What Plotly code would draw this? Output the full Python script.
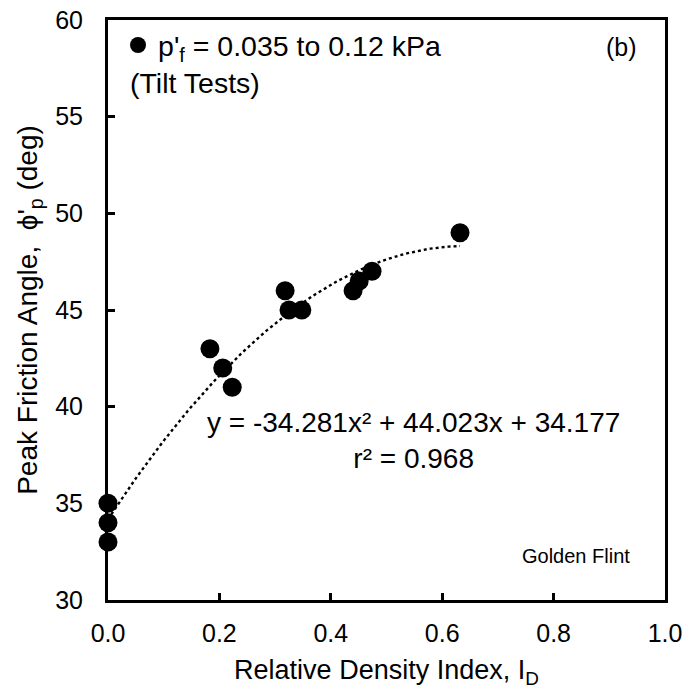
import numpy as np
import plotly.graph_objects as go

# Tilt-test results: relative density index vs peak friction angle
relative_density = [0.0, 0.0, 0.0, 0.183, 0.206, 0.223, 0.318, 0.325, 0.348,
                    0.440, 0.451, 0.474, 0.632]
peak_friction = [35, 34, 33, 43, 42, 41, 46, 45, 45, 46, 46.5, 47, 49]

# Quadratic trendline coefficients (a x^2 + b x + c)
fit_a, fit_b, fit_c = -34.281, 44.023, 34.177
fit_r2 = 0.968

x_ticks = [0.0, 0.2, 0.4, 0.6, 0.8, 1.0]
y_ticks = [30, 35, 40, 45, 50, 55, 60]

FONT = "Liberation Sans, Arial, sans-serif"

xfit = np.linspace(min(relative_density), max(relative_density), 120)
yfit = fit_a * xfit ** 2 + fit_b * xfit + fit_c

fig = go.Figure()
fig.add_trace(go.Scatter(
    x=xfit, y=yfit, mode="lines",
    line=dict(color="black", width=2.4, dash="dot"),
    showlegend=False, hoverinfo="skip",
))
fig.add_trace(go.Scatter(
    x=relative_density, y=peak_friction, mode="markers",
    marker=dict(color="black", size=19, line=dict(width=0)),
    name="p'<sub>f</sub> = 0.035 to 0.12 kPa",
    cliponaxis=False,
))

eq_text = (f"y = {fit_a}x² + {fit_b}x + {fit_c}"
           f"<br>r² = {fit_r2}")

fig.update_layout(
    width=688, height=690,
    margin=dict(l=108, r=23, t=20, b=90, autoexpand=False),
    paper_bgcolor="white", plot_bgcolor="white",
    font=dict(family=FONT, size=25, color="black"),
    showlegend=True,
    legend=dict(x=0.018, y=1.0, xanchor="left", yanchor="top",
                bgcolor="rgba(0,0,0,0)", font=dict(family=FONT, size=28.5),
                itemwidth=30, tracegroupgap=0),
    xaxis=dict(
        range=[0, 1], tickvals=x_ticks,
        ticktext=[f"{v:.1f}" for v in x_ticks],
        ticks="inside", ticklen=7, tickwidth=3, tickcolor="black",
        showline=True, linewidth=3, linecolor="black", mirror=True,
        showgrid=False, zeroline=False, automargin=False,
        ticklabelstandoff=9,
        title=dict(text="Relative Density Index, I<sub>D</sub>", standoff=15,
                   font=dict(family=FONT, size=27)),
    ),
    yaxis=dict(
        range=[30, 60], tickvals=y_ticks,
        ticks="inside", ticklen=7, tickwidth=3, tickcolor="black",
        showline=True, linewidth=3, linecolor="black", mirror=True,
        showgrid=False, zeroline=False, automargin=False,
        ticklabelstandoff=17,
        title=dict(text="Peak Friction Angle,  ϕ'<sub>p</sub> (deg)", standoff=10,
                   font=dict(family=FONT, size=28)),
    ),
    annotations=[
        dict(x=0.036, y=56.75, xref="x", yref="y", text="(Tilt Tests)",
             showarrow=False, xanchor="left", yanchor="middle",
             font=dict(family=FONT, size=28.5)),
        dict(x=0.921, y=58.6, xref="x", yref="y", text="(b)",
             showarrow=False, xanchor="center", yanchor="middle"),
        dict(x=0.549, y=40.1, xref="x", yref="y", text=eq_text,
             showarrow=False, xanchor="center", yanchor="top", align="center",
             font=dict(family=FONT, size=28)),
        dict(x=0.84, y=32.3, xref="x", yref="y", text="Golden Flint",
             showarrow=False, xanchor="center", yanchor="middle",
             font=dict(family=FONT, size=20)),
    ],
)

fig.write_html("out.html")
